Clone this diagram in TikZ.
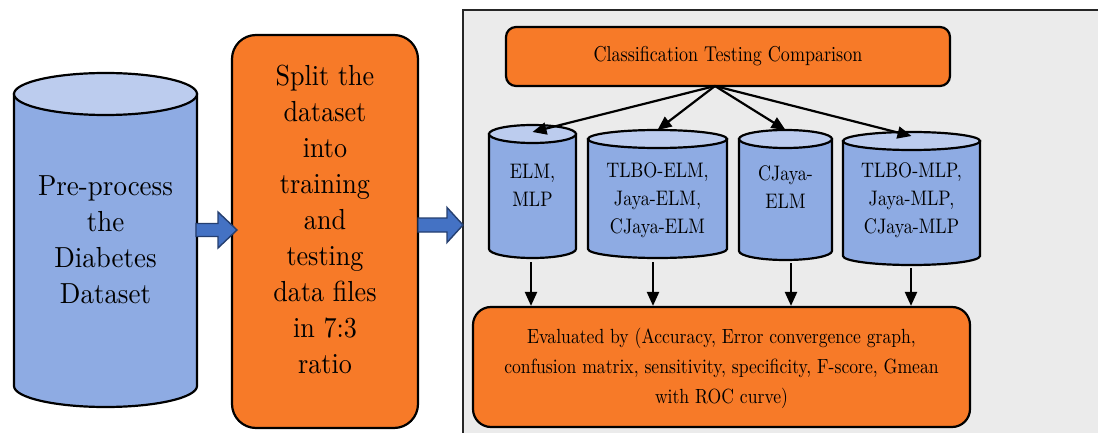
\documentclass[tikz,border=0pt]{standalone}
\usepackage{fontspec}
\usepackage{graphicx}
\setmainfont{lmroman10-regular.otf}
\usetikzlibrary{arrows.meta}

\definecolor{cylbody}{HTML}{8EABE3}
\definecolor{cyltopc}{HTML}{BCCCEE}
\definecolor{boxorange}{HTML}{F77A28}
\definecolor{panelgray}{HTML}{EBEBEB}
\definecolor{arrowblue}{HTML}{4472C4}
\definecolor{arrowedge}{HTML}{253F70}

% horizontally condensed centred lines
\newcommand\narrowlines[2]{\scalebox{#1}[1]{\begin{tabular}{@{}c@{}}#2\end{tabular}}}

% database cylinder: #1 cx, #2 top centre y, #3 bottom centre y, #4 rx, #5 ry, #6 name
\newcommand\dbcylinder[6]{%
  \path[cylside] (#1-#4,#2) -- (#1-#4,#3)
    arc[start angle=180,end angle=360,x radius=#4pt,y radius=#5pt]
    -- (#1+#4,#2) -- cycle;
  \path[cyltop] (#1,#2) ellipse[x radius=#4pt,y radius=#5pt];
  \coordinate (#6-top) at (#1,#2-#5);
}
% block arrow: #1 tail x, #2 head base x, #3 tip x, #4 centre y, #5 shaft half, #6 head half
\newcommand\blockarrow[6]{%
  \path[blockarr] (#1,#4-#5) -- (#2,#4-#5) -- (#2,#4-#6) -- (#3,#4)
    -- (#2,#4+#6) -- (#2,#4+#5) -- (#1,#4+#5) -- cycle;
}

\begin{document}
\begin{tikzpicture}[x=1pt,y=-1pt,
  outline/.style={draw=black,line width=2.2pt},
  cylside/.style={outline,fill=cylbody},
  cyltop/.style={outline,fill=cyltopc},
  procbox/.style={outline,fill=boxorange,inner sep=0pt},
  panel/.style={draw=black!85,line width=2.4pt,fill=panelgray},
  blockarr/.style={fill=arrowblue,draw=arrowedge,line width=1.4pt,line join=miter},
  conn/.style={line width=2.2pt,-{Triangle[length=14pt,width=12pt]}},
  bigtext/.style={inner sep=0pt,font=\fontsize{29}{36}\selectfont},
  cyltext/.style={inner sep=0pt,font=\fontsize{21}{28}\selectfont},
]
\clip (0,0) rectangle (1098,433);
\fill[white] (0,0) rectangle (1098,433);

% right-hand panel
\path[panel] (463,10) rectangle (1120,450);

% pre-processing database
\dbcylinder{105.5}{94}{386}{91.5}{21}{data}
\node[bigtext] (datalabel) at (105.5,242) {\narrowlines{0.93}{Pre-process\\the\\Diabetes\\Dataset}};

% splitting step
\node[procbox,rounded corners=24pt,minimum width=186pt,minimum height=393pt] (split) at (325,231.5) {};
\node[bigtext] (splitlabel) at (325,222.5) {\narrowlines{0.9}{Split the\\dataset\\into\\training\\and\\testing\\data files\\in 7:3\\ratio}};

% flow arrows between the stages
\blockarrow{196}{218}{237}{230}{6.5}{18}
\blockarrow{418}{447}{463}{225}{7}{17.5}

% comparison header
\node[procbox,rounded corners=10pt,minimum width=444pt,minimum height=59pt,
      font=\fontsize{21.5}{26}\selectfont] (cls) at (728,56.5) {\narrowlines{0.84}{Classification Testing Comparison}};
\coordinate (fan) at (715,86);

% model groups
\dbcylinder{532.5}{134}{249}{43.5}{9}{e1}
\dbcylinder{657.5}{139}{249}{69.5}{9}{e2}
\dbcylinder{785.5}{139}{251}{46.5}{9}{e3}
\dbcylinder{911.5}{141}{256}{68.5}{9}{e4}
\node[cyltext] (m1) at (532.5,187) {\narrowlines{0.86}{ELM,\\MLP}};
\node[cyltext] (m2) at (657.5,200) {\narrowlines{0.86}{TLBO-ELM,\\Jaya-ELM,\\CJaya-ELM}};
\node[cyltext] (m3) at (785.5,189) {\narrowlines{0.86}{CJaya-\\ELM}};
\node[cyltext] (m4) at (911.5,200) {\narrowlines{0.86}{TLBO-MLP,\\Jaya-MLP,\\CJaya-MLP}};

\draw[conn] (fan) -- ([yshift=-7pt]e1-top);
\draw[conn] (fan) -- (e2-top);
\draw[conn] (fan) -- (e3-top);
\draw[conn] (fan) -- ([yshift=-4pt]e4-top);

% evaluation
\node[procbox,rounded corners=18pt,minimum width=497pt,minimum height=120pt,
      font=\fontsize{20.5}{30}\selectfont] (eval) at (721.5,367)
  {\narrowlines{0.86}{Evaluated by (Accuracy, Error convergence graph,\\confusion matrix, sensitivity, specificity, F-score, Gmean\\with ROC curve)}};

\coordinate (o1) at (531,262);
\coordinate (o2) at (653,262);
\coordinate (o3) at (791,263);
\coordinate (o4) at (911,268);
\foreach \o in {o1,o2,o3,o4}
  \draw[conn] (\o) -- (\o |- eval.north);
\end{tikzpicture}
\end{document}
